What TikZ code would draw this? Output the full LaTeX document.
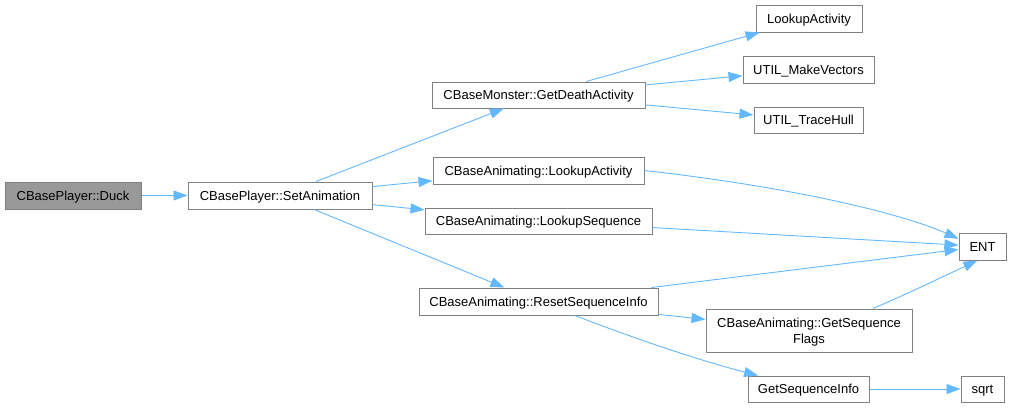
\documentclass[tikz,border=0pt]{standalone}
\usepackage{fontspec}
\setmainfont{Liberation Sans}
\usetikzlibrary{arrows.meta}
\definecolor{edgeblue}{HTML}{63B8FF}
\definecolor{boxgray}{HTML}{808080}
\definecolor{dkfill}{HTML}{999999}
\tikzset{
  box/.style={draw=boxgray, line width=1pt, fill=white, rectangle, inner sep=0pt,
    font=\fontsize{13}{16.3}\selectfont, text=black, align=center,
    text height=9.3pt, text depth=0pt},
  cur/.style={box, fill=dkfill},
  link/.style={draw=edgeblue, line width=0.9pt, -{Triangle[length=14pt,width=10pt]}}
}
\begin{document}
\begin{tikzpicture}[x=1pt, y=-1pt]
\useasboundingbox (0,0) rectangle (1011,408);
\node[cur, minimum width=136pt, minimum height=27pt] (duck) at (73,195.5) {CBasePlayer::Duck};
\node[box, minimum width=184pt, minimum height=27pt] (sa) at (280,195.5) {CBasePlayer::SetAnimation};
\node[box, minimum width=213pt, minimum height=26pt] (gda) at (538.5,95) {CBaseMonster::GetDeathActivity};
\node[box, minimum width=211pt, minimum height=27pt] (la) at (538.5,170.5) {CBaseAnimating::LookupActivity};
\node[box, minimum width=227pt, minimum height=26pt] (ls) at (538.5,221) {CBaseAnimating::LookupSequence};
\node[box, minimum width=239pt, minimum height=27pt] (rsi) at (538.5,301.5) {CBaseAnimating::ResetSequenceInfo};
\node[box, minimum width=106pt, minimum height=27pt] (lka) at (809,18.5) {LookupActivity};
\node[box, minimum width=131pt, minimum height=27pt] (mv) at (808.5,69.5) {UTIL\_MakeVectors};
\node[box, minimum width=109pt, minimum height=26pt] (th) at (808.5,120) {UTIL\_TraceHull};
\node[box, minimum width=47pt, minimum height=27pt] (ent) at (982.5,246.5) {ENT};
\node[box, minimum width=206pt, minimum height=43pt, text height=25.6pt, text depth=0pt] (gsf) at (809,330.5) {CBaseAnimating::GetSequence\\Flags};
\node[box, minimum width=121pt, minimum height=26pt] (gsi) at (808.5,389) {GetSequenceInfo};
\node[box, minimum width=43pt, minimum height=26pt] (sqrt) at (982.5,389) {sqrt};

\draw[link] (duck) -- (sa);
\draw[link] (sa) -- (gda);
\draw[link] (sa) -- (la);
\draw[link] (sa) -- (ls);
\draw[link] (sa) -- (rsi);
\draw[link] (gda) -- (lka);
\draw[link] (gda) -- (mv);
\draw[link] (gda) -- (th);
\draw[link] (la.east) .. controls (800,188) and (905,215) .. (ent.162);
\draw[link] (ls) -- (ent);
\draw[link] (rsi) -- (ent);
\draw[link] (rsi) -- (gsf);
\draw[link] (rsi.-21.4) .. controls (620,333) and (690,358) .. (gsi.165);
\draw[link] (gsf.19.4) .. controls (905,295) and (940,278) .. (ent.-110);
\draw[link] (gsi) -- (sqrt);
\end{tikzpicture}
\end{document}
